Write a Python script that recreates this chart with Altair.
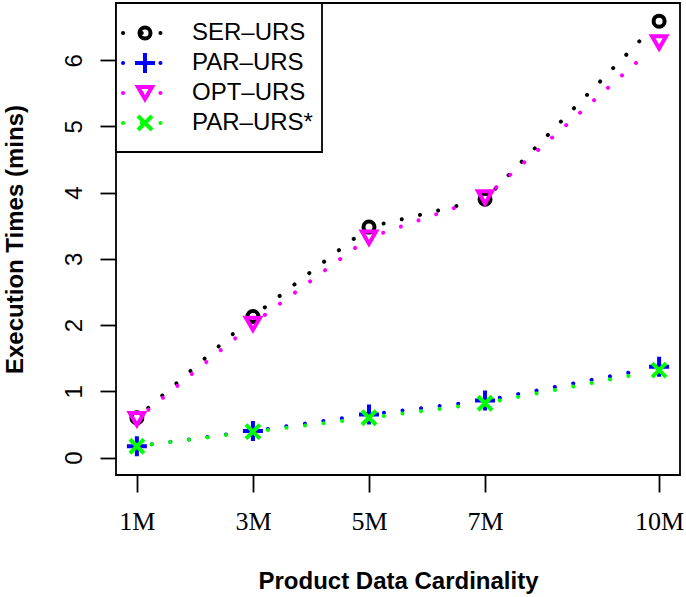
import altair as alt
import pandas as pd
import numpy as np

# ---------------- data ----------------
x_vals = [1, 3, 5, 7, 10]
x_labels = ["1M", "3M", "5M", "7M", "10M"]
y_ticks = [0, 1, 2, 3, 4, 5, 6]
series = ["SER–URS", "PAR–URS", "OPT–URS", "PAR–URS*"]
ser_urs = [0.60, 2.13, 3.48, 3.90, 6.59]
par_urs = [0.17, 0.40, 0.65, 0.86, 1.37]
opt_urs = [0.58, 2.02, 3.32, 3.93, 6.27]
par_urs_star = [0.17, 0.39, 0.60, 0.82, 1.32]
values = [ser_urs, par_urs, opt_urs, par_urs_star]

# ---------------- styling ----------------
colors = ["#000000", "#0000FF", "#FF00FF", "#00FF00"]
shapes = [
    "M 1 0 A 1 1 0 1 1 -1 0 A 1 1 0 1 1 1 0 Z",
    "M -1 0 L 1 0 M 0 -1 L 0 1",
    "triangle-down",
    "M -1 -1 L 1 1 M -1 1 L 1 -1",
]
sizes = [121, 400, 200, 196]

X_DOMAIN = [0.64, 10.36]
Y_DOMAIN = [-0.264, 6.864]
W, H = 564, 472
PX = W / (X_DOMAIN[1] - X_DOMAIN[0])
PY = H / (Y_DOMAIN[1] - Y_DOMAIN[0])
GAP = 15.0
DASH = [0.1, 18.6]

xs = alt.Scale(domain=X_DOMAIN, nice=False, zero=False)
ys = alt.Scale(domain=Y_DOMAIN, nice=False, zero=False)

label_expr = " : ".join(
    f"datum.value == {v} ? '{l}'" for v, l in zip(x_vals, x_labels)
) + " : ''"

x_axis = alt.Axis(
    values=x_vals, labelExpr=label_expr, domain=False, grid=False,
    ticks=True, tickSize=17, tickWidth=1.8, tickColor="black",
    labelFont="Liberation Serif", labelFontSize=26, labelColor="black",
    labelPadding=16, labelFlush=False,
    title="Product Data Cardinality", titleFont="Liberation Sans",
    titleFontSize=24, titleFontWeight="bold", titleColor="black",
    titleBaseline="alphabetic", titleY=113,
)
y_axis = alt.Axis(
    values=y_ticks, domain=False, grid=False,
    ticks=True, tickSize=16, tickWidth=1.8, tickColor="black",
    labelFont="Liberation Sans", labelFontSize=24, labelColor="black",
    labelAngle=270, labelAlign="center", labelBaseline="bottom",
    labelPadding=14, labelFlush=False,
    title="Execution Times (mins)", titleFont="Liberation Sans",
    titleFontSize=24, titleFontWeight="bold", titleColor="black",
    titleAngle=270, titleBaseline="alphabetic", titleAlign="center",
    titleX=-94, titleY=H / 2,
)

X = lambda: alt.X("x:Q", scale=xs, axis=x_axis)
Y = lambda: alt.Y("y:Q", scale=ys, axis=y_axis)

layers = []
for name, vals, col, shp, sz in zip(series, values, colors, shapes, sizes):
    # segments (type="b": lines broken near points)
    rows = []
    for i in range(len(x_vals) - 1):
        x1, y1, x2, y2 = x_vals[i], vals[i], x_vals[i + 1], vals[i + 1]
        dxp, dyp = (x2 - x1) * PX, (y2 - y1) * PY
        L = float(np.hypot(dxp, dyp))
        t = GAP / L
        rows.append({
            "x": x1 + (x2 - x1) * t, "y": y1 + (y2 - y1) * t,
            "x2": x2 - (x2 - x1) * t, "y2": y2 - (y2 - y1) * t,
        })
    seg = pd.DataFrame(rows)
    layers.append(
        alt.Chart(seg).mark_rule(
            color=col, strokeWidth=4, strokeCap="round", strokeDash=DASH
        ).encode(x=X(), y=Y(), x2="x2:Q", y2="y2:Q")
    )
    pts = pd.DataFrame({"x": x_vals, "y": vals})
    layers.append(
        alt.Chart(pts).mark_point(
            shape=shp, size=sz, filled=False, color=col, strokeWidth=4,
            opacity=1,
        ).encode(x=X(), y=Y())
    )

# ---------------- legend ----------------
one = pd.DataFrame({"a": [0]})
layers.append(
    alt.Chart(one).mark_rect(fill="white", stroke="black", strokeWidth=1.8).encode(
        x=alt.value(0), x2=alt.value(206), y=alt.value(0), y2=alt.value(149)
    )
)
for k, (name, col, shp, sz) in enumerate(zip(series, colors, shapes, sizes)):
    ry = 30 + 30 * k
    layers.append(
        alt.Chart(one).mark_rule(
            color=col, strokeWidth=4, strokeCap="round", strokeDash=DASH
        ).encode(x=alt.value(7), x2=alt.value(45), y=alt.value(ry), y2=alt.value(ry))
    )
    layers.append(
        alt.Chart(one).mark_point(
            shape=shp, size=sz, filled=False, color=col, strokeWidth=4, opacity=1
        ).encode(x=alt.value(29), y=alt.value(ry))
    )
    layers.append(
        alt.Chart(pd.DataFrame({"s": [name]})).mark_text(
            align="left", baseline="middle", font="Liberation Sans",
            fontSize=24, color="black",
        ).encode(x=alt.value(76), y=alt.value(ry), text="s:N")
    )

chart = alt.layer(*layers).properties(
    width=W, height=H,
    autosize=alt.AutoSizeParams(type="none"),
    padding={"left": 116, "top": 3, "right": 6, "bottom": 122},
    background="white",
).configure_view(stroke="black", strokeWidth=1.8)

chart.save("out.html", embed_options={"renderer": "svg", "actions": False})
